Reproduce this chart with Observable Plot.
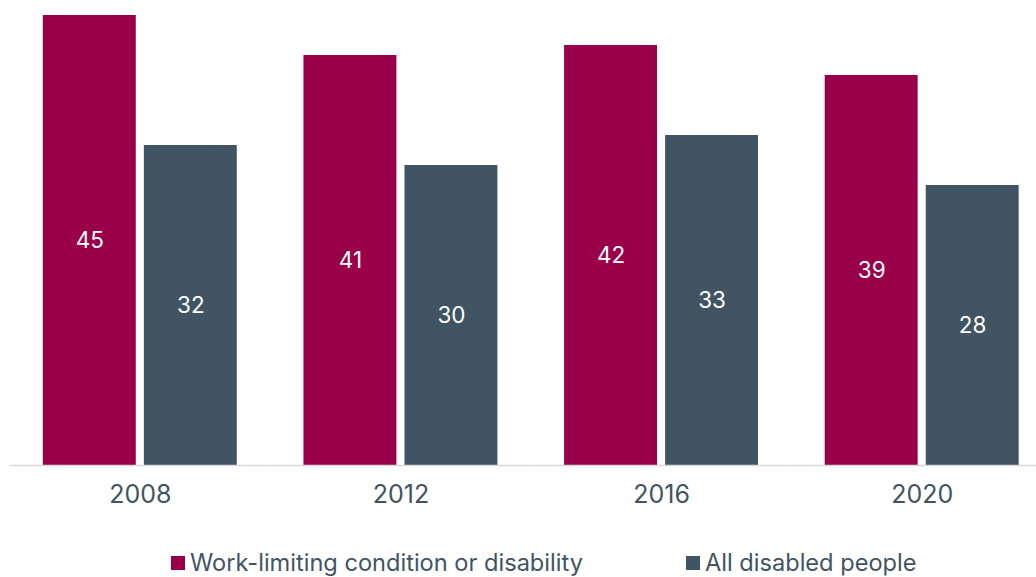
<!DOCTYPE html>
<html><head><meta charset="utf-8">
<script src="https://cdn.jsdelivr.net/npm/d3@7"></script>
<script src="https://cdn.jsdelivr.net/npm/@observablehq/plot@0.6"></script>
<style>
body{margin:0;background:#fff;font-family:Inter, "Noto Sans", sans-serif;}
#chart{width:1036px;height:530px;overflow:hidden;}
#legend{position:relative;width:1036px;height:47px;}
.item{position:absolute;top:21px;display:flex;align-items:center;font-size:23.6px;color:#415464;line-height:24px;white-space:nowrap;}
.sw{display:inline-block;width:14px;height:14px;margin-right:5px;}
</style></head><body>
<div id="chart"></div>
<div id="legend"></div>
<script>
const years = ["2008", "2012", "2016", "2020"];
const seriesNames = ["Work-limiting condition or disability", "All disabled people"];
const workLimiting = [45, 41, 42, 39];
const allDisabled = [32, 30, 33, 28];
const colors = ["#990049", "#415464"];

const data = years.flatMap((y, i) => [
  {year: y, series: seriesNames[0], value: workLimiting[i]},
  {year: y, series: seriesNames[1], value: allDisabled[i]}
]);

const plot = Plot.plot({
  width: 1062, height: 530,
  marginLeft: 9.5, marginRight: 10, marginTop: 15, marginBottom: 65,
  style: {fontFamily: "Inter, 'Noto Sans', sans-serif", maxWidth: "none", background: "white"},
  fx: {domain: years, padding: 0, round: false, label: null},
  x: {domain: seriesNames, paddingInner: 0.08, paddingOuter: 0.33, round: false, axis: null},
  y: {domain: [0, 45], axis: null},
  color: {domain: seriesNames, range: colors},
  marks: [
    Plot.barY(data, {fx: "year", x: "series", y: "value", fill: "series"}),
    Plot.text(data, {fx: "year", x: "series", y: d => d.value / 2, text: d => String(d.value), fill: "white", fontSize: 22.5}),
    Plot.ruleY([0], {stroke: "#d9d9d9", strokeWidth: 1.5}),
    Plot.axisFx({anchor: "bottom", tickSize: 0, tickPadding: 20, fontSize: 25, color: "#415464", label: null})
  ]
});
document.getElementById("chart").appendChild(plot);

const legend = document.getElementById("legend");
const lefts = [171, 686];
seriesNames.forEach((name, i) => {
  const it = document.createElement("div");
  it.className = "item";
  it.style.left = lefts[i] + "px";
  const sw = document.createElement("span");
  sw.className = "sw";
  sw.style.background = colors[i];
  const t = document.createElement("span");
  t.textContent = name;
  it.appendChild(sw); it.appendChild(t);
  legend.appendChild(it);
});
</script>
</body></html>
